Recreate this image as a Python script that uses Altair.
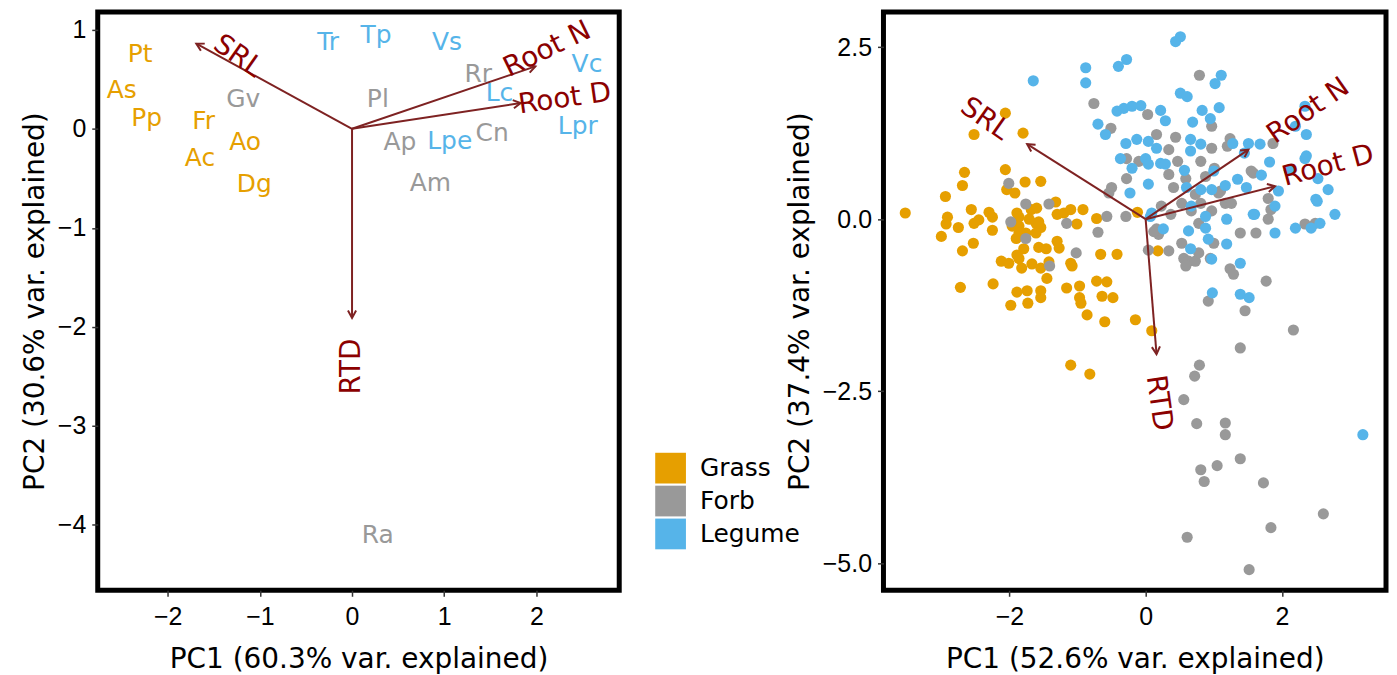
import altair as alt
import pandas as pd
import numpy as np

groups = ["Grass", "Forb", "Legume"]
colors = ["#E69F00", "#999999", "#56B4E9"]

# ---------- Left panel: species means ----------
sp_names = ["Pt", "As", "Pp", "Fr", "Ac", "Ao", "Dg", "Gv", "Tr", "Tp", "Vs", "Pl",
            "Rr", "Lc", "Vc", "Ap", "Lpe", "Cn", "Lpr", "Am", "Ra"]
sp_group = ["Grass", "Grass", "Grass", "Grass", "Grass", "Grass", "Grass", "Forb",
            "Legume", "Legume", "Legume", "Forb", "Forb", "Legume", "Legume", "Forb",
            "Legume", "Forb", "Legume", "Forb", "Forb"]
sp_pc1 = [-2.30, -2.50, -2.23, -1.61, -1.65, -1.16, -1.06, -1.18, -0.26, 0.26, 1.03, 0.28,
          1.37, 1.60, 2.55, 0.52, 1.06, 1.52, 2.45, 0.85, 0.28]
sp_pc2 = [0.76, 0.39, 0.11, 0.08, -0.30, -0.13, -0.56, 0.30, 0.88, 0.95, 0.88, 0.30,
          0.55, 0.36, 0.65, -0.13, -0.12, -0.04, 0.03, -0.55, -4.10]

traits = ["SRL", "Root N", "Root D", "RTD"]
load_l_pc1 = [-1.69, 1.99, 1.83, 0.0]
load_l_pc2 = [0.86, 0.63, 0.26, -1.91]
lab_l_pc1 = [-1.24, 2.12, 2.31, 0.0]
lab_l_pc2 = [0.73, 0.80, 0.30, -2.40]

# ---------- Right panel: individual samples ----------
grass_pc1 = [-2.06, -2.52, -1.80, -2.66, -2.06, -2.69, -2.94, -1.77, -1.54, -2.04, -1.92, -3.53,
             -2.91, -2.93, -2.75, -2.56, -2.30, -2.25, -3.00, -2.52, -2.45, -2.25, -2.53, -2.69,
             -1.96, -1.86, -1.76, -1.90, -1.61, -1.54, -1.61, -1.89, -1.68, -1.60, -1.32, -1.30,
             -1.20, -1.10, -0.92, -1.01, -0.72, -1.57, -1.46, -1.30, -1.27, -1.79, -1.89, -2.12,
             -2.01, -1.82, -1.67, -1.54, -1.45, -1.10, -1.08, -0.66, -0.42, -2.72, -2.24, -1.89,
             -1.74, -1.54, -1.54, -1.98, -1.73, -1.16, -0.97, -0.97, -0.95, -0.72, -0.57, -0.64,
             -0.48, -0.86, -0.60, -0.15, 0.09, -1.10, -0.82, -0.12, 0.18, -1.86, -1.57, -1.71,
             -1.86, -1.86, -1.42]
grass_pc2 = [1.54, 1.23, 1.25, 0.68, 0.72, 0.49, 0.33, 0.54, 0.55, 0.43, 0.38, 0.09,
             0.03, -0.07, -0.12, 0.14, 0.10, 0.03, -0.25, -0.06, -0.01, -0.16, -0.35, -0.46,
             -0.10, -0.10, -0.20, -0.28, -0.06, -0.12, -0.20, 0.09, 0.14, 0.16, 0.25, 0.07,
             0.09, 0.14, 0.14, -0.07, 0.01, -0.41, -0.43, -0.32, -0.42, -0.43, -0.52, -0.61,
             -0.64, -0.71, -0.65, -0.71, -0.86, -0.64, -0.68, -0.51, -0.51, -0.99, -0.94, -1.06,
             -1.04, -1.04, -1.14, -1.25, -1.22, -1.00, -0.97, -1.14, -1.22, -0.90, -0.91, -1.12,
             -1.14, -1.39, -1.49, -1.46, -1.62, -2.12, -2.25, 0.10, -0.46, 0.03, -0.04, 0.00,
             -0.20, -0.57, -0.62]

forb_pc1 = [-0.76, -0.51, 0.03, -0.28, -0.10, -0.28, -0.50, -0.54, -2.01, -1.76, -1.42, -1.98,
            -1.76, -1.16, -1.02, -1.41, -0.57, -0.29, -0.70, 0.04, 0.79, 0.97, 0.16, 0.44,
            0.34, 0.81, 1.24, 1.20, 0.97, 0.34, 0.59, 0.41, 0.88, 1.58, 1.80, 1.84,
            1.07, 1.17, 0.81, 0.23, 0.53, 0.67, 0.97, 1.26, 1.87, 0.16, 0.19, 0.34,
            0.53, 0.37, 0.78, 1.00, 0.56, 0.63, 0.73, 0.78, 0.59, 0.95, 1.24, 1.29,
            1.39, 1.62, 1.80, 2.34, 2.49, 1.77, 1.46, 0.92, 2.17, 1.39, 0.79, 0.72,
            0.56, 0.75, 1.17, 1.17, 1.39, 1.05, 0.81, 0.86, 1.73, 2.61, 1.84, 0.61,
            1.52, 0.47, 1.01, 1.55, 1.10, 0.73, 0.12]
forb_pc2 = [1.68, 1.32, 1.52, 0.88, 0.84, 0.59, 0.46, 0.38, 0.52, 0.22, 0.22, -0.04,
            -0.28, -0.06, -0.49, -0.68, 0.04, 0.04, -0.19, -0.45, 2.09, 1.35, 1.23, 1.19,
            1.01, 0.84, 1.17, 1.06, 1.03, 0.65, 0.59, 0.46, 0.62, 0.67, 0.30, 0.14,
            0.38, 0.23, 0.23, 0.19, 0.23, 0.12, 0.12, 0.23, 1.10, -0.14, -0.22, -0.46,
            -0.35, 0.07, -0.06, -0.35, -0.57, -0.61, -0.61, -0.49, -0.68, -0.57, -0.72, -0.80,
            -0.20, -0.20, 0.00, -0.07, -0.06, -0.90, -1.33, -1.19, -1.61, -1.87, -2.12, -2.28,
            -2.62, -2.97, -2.96, -3.13, -3.48, -3.58, -3.64, -3.81, -3.83, -4.28, -4.48, -4.62,
            -5.09, 0.84, 0.74, 0.70, 0.41, 0.36, -0.18]

legume_pc1 = [-1.65, -0.88, -0.88, -0.40, -0.28, -0.70, -0.59, -0.42, -0.32, -0.20, -0.07, -0.29,
              -0.13, 0.04, -0.37, 0.00, 0.04, -0.20, 0.04, -0.23, 0.51, 0.44, 1.11, 1.02,
              0.51, 0.61, 0.22, 0.29, 0.83, 0.95, 1.08, 0.69, 0.16, 0.22, 0.29, 0.57,
              0.66, 0.81, 0.66, 1.51, 1.68, 1.45, 1.82, 2.20, 2.34, 2.36, 2.34, 2.36,
              2.11, 1.70, 0.60, 0.81, 0.97, 1.00, 1.17, 1.35, 1.48, 1.95, 2.53, 2.68,
              2.52, 2.78, 1.60, 0.67, 0.09, 0.88, 1.19, 1.58, 1.90, 2.50, 2.56, 2.43,
              2.20, 1.90, 0.26, 0.63, 0.88, 0.92, 1.19, 0.66, 0.97, 1.39, 0.98, 1.39,
              1.52, 3.19, 0.07, 1.28]
legume_pc2 = [2.01, 2.20, 1.98, 2.22, 2.32, 1.38, 1.23, 1.57, 1.61, 1.64, 1.65, 1.10,
              1.16, 1.13, 0.88, 0.88, 0.80, 0.74, 0.51, 0.38, 2.65, 2.58, 2.09, 1.97,
              1.83, 1.78, 1.58, 1.43, 1.58, 1.46, 1.62, 1.41, 1.03, 0.81, 0.80, 0.71,
              1.16, 1.09, 0.99, 1.10, 1.09, 0.96, 0.83, 1.35, 1.64, 1.23, 0.88, 0.92,
              0.71, 0.64, 0.46, 0.43, 0.43, 0.70, 0.49, 0.58, 0.46, 0.41, 0.59, 0.43,
              0.26, 0.07, 0.07, 0.19, 0.09, 0.04, 0.00, 0.07, 0.19, 0.29, -0.06, -0.13,
              -0.13, -0.20, -0.14, -0.17, -0.13, -0.29, -0.36, -0.43, -0.58, -0.64, -1.07, -1.09,
              -1.14, -3.13, 0.04, 1.10]

load_r_pc1 = [-1.74, 1.51, 1.90, 0.16]
load_r_pc2 = [1.09, 1.01, 0.48, -1.96]
lab_r_pc1 = [-2.36, 2.39, 2.68, 0.19]
lab_r_pc2 = [1.45, 1.57, 0.77, -2.67]

# ---------- styling ----------
ARROW = "#7E2222"
LABEL = "#8B0000"
FONT = "DejaVu Sans"
TICKFONT = "Liberation Sans"
head_path = "M-0.55,1L0,0L0.55,1"

color_scale = alt.Scale(domain=groups, range=colors)


def biplot_layers(pc1, pc2, lab1, lab2, xdom, ydom, w, h, label_angles):
    kx = w / (xdom[1] - xdom[0])
    ky = h / (ydom[1] - ydom[0])
    ang = [float(np.degrees(np.arctan2(a * kx, b * ky)) % 360) for a, b in zip(pc1, pc2)]
    df = pd.DataFrame({"trait": traits, "x": pc1, "y": pc2,
                       "x0": [0.0] * 4, "y0": [0.0] * 4, "ang": ang})
    xs = alt.Scale(domain=xdom, nice=False, zero=False)
    ys = alt.Scale(domain=ydom, nice=False, zero=False)
    lines = alt.Chart(df).mark_rule(color=ARROW, strokeWidth=2).encode(
        x=alt.X("x0:Q", scale=xs), y=alt.Y("y0:Q", scale=ys), x2="x:Q", y2="y:Q")
    heads = alt.Chart(df).mark_point(shape=head_path, filled=False, color=ARROW,
                                     strokeWidth=2, size=220, opacity=1).encode(
        x=alt.X("x:Q", scale=xs), y=alt.Y("y:Q", scale=ys),
        angle=alt.Angle("ang:Q", scale=None))
    texts = []
    for t, lx, ly in zip(traits, lab1, lab2):
        tdf = pd.DataFrame({"trait": [t], "x": [lx], "y": [ly]})
        texts.append(alt.Chart(tdf).mark_text(
            font=FONT, fontSize=28, color=LABEL, angle=label_angles[t],
            align="center", baseline="middle").encode(
            x=alt.X("x:Q", scale=xs), y=alt.Y("y:Q", scale=ys), text="trait:N"))
    return [lines, heads] + texts


# ----- Left panel -----
LW, LH = 523, 580
lx_dom, ly_dom = [-2.76, 2.90], [-4.66, 1.18]
sp_df = pd.DataFrame({"name": sp_names, "group": sp_group, "pc1": sp_pc1, "pc2": sp_pc2})
left_text = alt.Chart(sp_df).mark_text(font=FONT, fontSize=25, align="center",
                                       baseline="middle").encode(
    x=alt.X("pc1:Q", scale=alt.Scale(domain=lx_dom, nice=False, zero=False),
            axis=alt.Axis(values=[-2, -1, 0, 1, 2], format="d",
                          title="PC1 (60.3% var. explained)")),
    y=alt.Y("pc2:Q", scale=alt.Scale(domain=ly_dom, nice=False, zero=False),
            axis=alt.Axis(values=[1, 0, -1, -2, -3, -4], format="d",
                          title="PC2 (30.6% var. explained)")),
    text="name:N",
    color=alt.Color("group:N", scale=color_scale, legend=None))
left_angles = {"SRL": 35, "Root N": 334, "Root D": 352, "RTD": 270}
left = alt.layer(left_text, *biplot_layers(load_l_pc1, load_l_pc2, lab_l_pc1, lab_l_pc2,
                                           lx_dom, ly_dom, LW, LH, left_angles)
                 ).properties(width=LW, height=LH)

# ----- Right panel -----
RW, RH = 504, 580
rx_dom, ry_dom = [-3.85, 3.53], [-5.39, 3.01]
pts = pd.concat([
    pd.DataFrame({"group": "Grass", "pc1": grass_pc1, "pc2": grass_pc2}),
    pd.DataFrame({"group": "Forb", "pc1": forb_pc1, "pc2": forb_pc2}),
    pd.DataFrame({"group": "Legume", "pc1": legume_pc1, "pc2": legume_pc2}),
], ignore_index=True)
right_pts = alt.Chart(pts).mark_circle(size=125, opacity=1).encode(
    x=alt.X("pc1:Q", scale=alt.Scale(domain=rx_dom, nice=False, zero=False),
            axis=alt.Axis(values=[-2, 0, 2], format="d",
                          title="PC1 (52.6% var. explained)")),
    y=alt.Y("pc2:Q", scale=alt.Scale(domain=ry_dom, nice=False, zero=False),
            axis=alt.Axis(values=[2.5, 0, -2.5, -5], format=".1f",
                          title="PC2 (37.4% var. explained)")),
    color=alt.Color("group:N", scale=color_scale,
                    legend=alt.Legend(title=None, orient="none", legendX=-229, legendY=442,
                                      symbolType="square", symbolSize=950,
                                      symbolStrokeWidth=0, symbolOpacity=1,
                                      labelFont=FONT, labelFontSize=25, labelColor="black",
                                      labelOffset=14, rowPadding=2)))
right_angles = {"SRL": 35, "Root N": 325, "Root D": 345, "RTD": 82}
right = alt.layer(right_pts, *biplot_layers(load_r_pc1, load_r_pc2, lab_r_pc1, lab_r_pc2,
                                            rx_dom, ry_dom, RW, RH, right_angles)
                  ).properties(width=RW, height=RH)

chart = alt.hconcat(left, right, spacing=30).resolve_legend(color="independent").properties(
    padding={"left": 10, "top": 0, "right": 0, "bottom": 0}, background="white"
).configure_view(stroke="black", strokeWidth=5).configure_axis(
    domain=False, grid=False, tickColor="#333333", tickSize=6, tickWidth=1.5,
    labelFont=TICKFONT, labelFontSize=25, labelColor="black", labelPadding=6,
    titleFont=FONT, titleFontSize=28, titleFontWeight="normal", titleColor="black",
    titlePadding=8
).configure_axisX(labelPadding=8, titlePadding=16)

chart.save("out.html", embed_options={"renderer": "svg", "actions": False})
